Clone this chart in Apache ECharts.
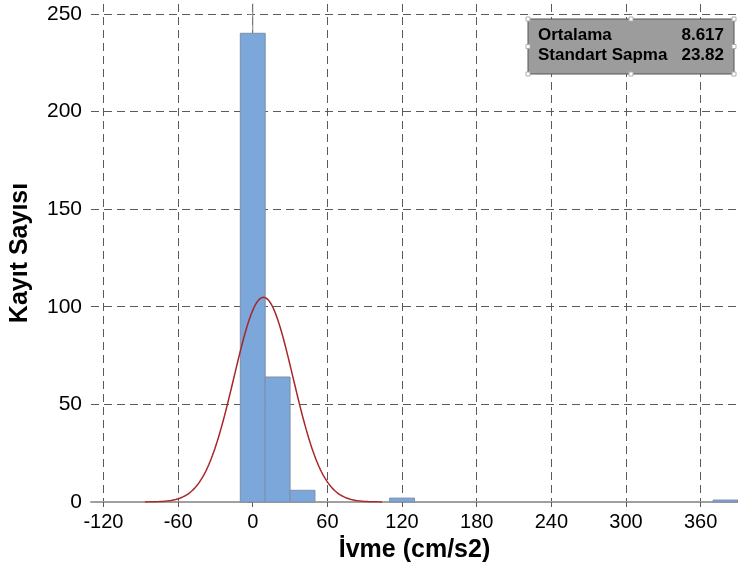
<!DOCTYPE html>
<html>
<head>
<meta charset="utf-8">
<script src="https://cdn.jsdelivr.net/npm/echarts@6/dist/echarts.min.js"></script>
<style>
  html, body { margin: 0; padding: 0; background: #fff; }
  #chart { width: 738px; height: 572px; }
</style>
</head>
<body>
<div id="chart"></div>
<script>
// Histogram of acceleration records with a fitted normal curve
const binWidth = 20;
const binCenters = [0, 20, 40, 120, 380];
const binCounts = [240, 64, 6, 2, 1];
const xTicks = [-120, -60, 0, 60, 120, 180, 240, 300, 360];
const yTicks = [0, 50, 100, 150, 200, 250];
const meanValue = 8.617;
const stdValue = 23.82;
const statLabels = ['Ortalama', 'Standart Sapma'];
const statValues = ['8.617', '23.82'];

const FONT = '"Liberation Sans", Arial, sans-serif';

// bars as [start, end, count]
const bars = binCenters.map((c, i) => [c - binWidth / 2, c + binWidth / 2, binCounts[i]]);

// normal density scaled to record count and bin width, using the stated mean / std
const total = binCounts.reduce((a, b) => a + b, 0);
const curve = [];
const steps = 200;
const lo = meanValue - 4 * stdValue, hi = meanValue + 4 * stdValue;
for (let i = 0; i <= steps; i++) {
  const x = lo + (hi - lo) * i / steps;
  const z = (x - meanValue) / stdValue;
  const y = total * binWidth * Math.exp(-0.5 * z * z) / (stdValue * Math.sqrt(2 * Math.PI));
  curve.push([x, y]);
}

const chart = echarts.init(document.getElementById('chart'), null, { renderer: 'canvas' });

const gridLine = { show: true, lineStyle: { color: '#5a5a5a', width: 1, type: [8, 5] } };

// stats box geometry
const box = { x: 528, y: 19, w: 206, h: 55 };
const handles = [];
[[0, 0], [0.5, 0], [1, 0], [0, 0.5], [1, 0.5], [0, 1], [0.5, 1], [1, 1]].forEach(p => {
  handles.push({
    type: 'rect', z: 102,
    shape: { x: box.x + p[0] * box.w - 2, y: box.y + p[1] * box.h - 2, width: 4, height: 4 },
    style: { fill: '#ffffff', stroke: '#b0b0b0', lineWidth: 1 }
  });
});

const statTexts = [];
statLabels.forEach((t, i) => {
  statTexts.push({
    type: 'text', z: 101, left: box.x + 10, top: box.y + 8 + i * 20,
    style: { text: t, font: 'bold 17px ' + FONT, fill: '#000' }
  });
  statTexts.push({
    type: 'text', z: 101, right: 738 - (box.x + box.w - 10), top: box.y + 8 + i * 20,
    style: { text: statValues[i], font: 'bold 17px ' + FONT, fill: '#000', textAlign: 'right' }
  });
});

chart.setOption({
  animation: false,
  backgroundColor: '#ffffff',
  grid: { left: 90, right: 0, top: 4, bottom: 70, containLabel: false },
  xAxis: {
    type: 'value',
    min: -130, max: 390,
    name: 'İvme (cm/s2)',
    nameLocation: 'middle',
    nameGap: 36,
    nameTextStyle: { fontFamily: FONT, fontSize: 25, fontWeight: 'bold', color: '#000' },
    axisLine: { show: true, lineStyle: { color: '#a0a0a0', width: 2 } },
    axisTick: { show: true, length: 5, lineStyle: { color: '#5a5a5a' }, customValues: xTicks },
    axisLabel: { customValues: xTicks, fontFamily: FONT, fontSize: 20, color: '#000', margin: 10 },
    splitLine: gridLine
  },
  yAxis: {
    type: 'value',
    min: 0, max: 255,
    name: 'Kayıt Sayısı',
    nameLocation: 'middle',
    nameGap: 58,
    nameRotate: 90,
    nameTextStyle: { fontFamily: FONT, fontSize: 25, fontWeight: 'bold', color: '#000' },
    axisLine: { show: true, lineStyle: { color: '#808080', width: 1 } },
    axisTick: { show: true, length: 5, lineStyle: { color: '#808080' }, customValues: yTicks },
    axisLabel: { customValues: yTicks, fontFamily: FONT, fontSize: 21, color: '#000', margin: 9 },
    splitLine: gridLine
  },
  series: [
    {
      type: 'custom',
      z: 3,
      data: bars,
      encode: { x: [0, 1], y: 2 },
      renderItem: function (params, api) {
        const p0 = api.coord([api.value(0), api.value(2)]);
        const p1 = api.coord([api.value(1), 0]);
        return {
          type: 'rect',
          shape: { x: p0[0], y: p0[1], width: p1[0] - p0[0], height: p1[1] - p0[1] },
          style: { fill: '#7ba7da', stroke: '#7f8fa6', lineWidth: 1 }
        };
      }
    },
    {
      type: 'line',
      z: 4,
      data: curve,
      showSymbol: false,
      smooth: false,
      lineStyle: { color: '#a8262a', width: 1.5 }
    }
  ],
  graphic: [
    {
      type: 'rect', z: 100,
      shape: { x: box.x, y: box.y, width: box.w, height: box.h },
      style: { fill: '#9c9c9c', stroke: '#555555', lineWidth: 1 }
    }
  ].concat(statTexts, handles)
});
</script>
</body>
</html>
